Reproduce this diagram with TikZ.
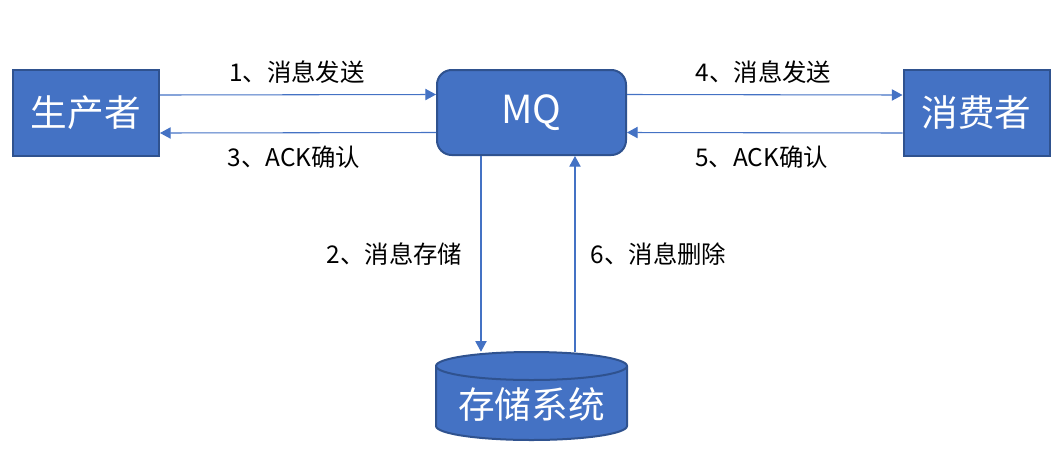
\documentclass[tikz,border=0pt]{standalone}
\usepackage{fontspec}
\newfontfamily\cjk{Noto Sans CJK SC}
\usetikzlibrary{arrows.meta}
\definecolor{boxblue}{HTML}{4472C4}
\definecolor{boxedge}{HTML}{2F528F}
\begin{document}
\begin{tikzpicture}[x=0.75pt,y=-0.75pt,
  box/.style={draw=boxedge, fill=boxblue, line width=1.5pt, text=white,
    font=\cjk\fontsize{27.5}{30}\selectfont, inner sep=0pt,
    minimum width=109.5pt, minimum height=64.5pt},
  arr/.style={draw=boxblue, line width=0.8pt, -{Triangle[length=8pt,width=8.5pt]}},
  lbl/.style={font=\cjk\fontsize{18.3}{20}\selectfont, text=black, inner sep=0pt}]
\useasboundingbox (0,0) rectangle (1060,472);
% storage cylinder
\path[fill=boxblue, draw=boxedge, line width=1.5pt]
  (436,366) -- (436,426)
  arc[start angle=180, end angle=360, x radius=71.625pt, y radius=10.5pt]
  -- (627,366)
  arc[start angle=0, end angle=180, x radius=71.625pt, y radius=10.5pt] -- cycle;
\draw[boxedge, line width=1.5pt] (436,366)
  arc[start angle=180, end angle=360, x radius=71.625pt, y radius=10.5pt];
\node[font=\cjk\fontsize{27.5}{30}\selectfont, text=white, inner sep=0pt,
  minimum width=143.25pt, minimum height=78pt] (store) at (531.5,404) {存储系统};
% boxes
\node[box] (prod) at (86,113) {生产者};
\node[box, minimum width=141.75pt, minimum height=63.75pt, rounded corners=11pt,
  font=\cjk\fontsize{29}{30}\selectfont] (mq) at (531.5,112.5) {MQ};
\node[box] (cons) at (976.5,113) {消费者};
% connectors
\draw[arr] ([yshift=13.5pt]prod.east) -- ([yshift=13.5pt]mq.west);
\draw[arr] ([yshift=-15pt]mq.west) -- ([yshift=-15pt]prod.east);
\draw[arr] ([yshift=13.5pt]mq.east) -- ([yshift=13.5pt]cons.west);
\draw[arr] ([yshift=-15pt]cons.west) -- ([yshift=-15pt]mq.east);
\draw[arr] ([xshift=-37.9pt]mq.south) -- ([xshift=-37.9pt]store.north);
\draw[arr] ([xshift=32.6pt]store.north) -- ([xshift=32.6pt]mq.south);
% labels
\node[lbl] (l1) at (297,72) {1、消息发送};
\node[lbl] (l3) at (294,157) {3、ACK确认};
\node[lbl] (l4) at (763.5,72) {4、消息发送};
\node[lbl] (l5) at (761.5,157) {5、ACK确认};
\node[lbl] (l2) at (394.5,254) {2、消息存储};
\node[lbl] (l6) at (658.5,254) {6、消息删除};
\end{tikzpicture}
\end{document}
